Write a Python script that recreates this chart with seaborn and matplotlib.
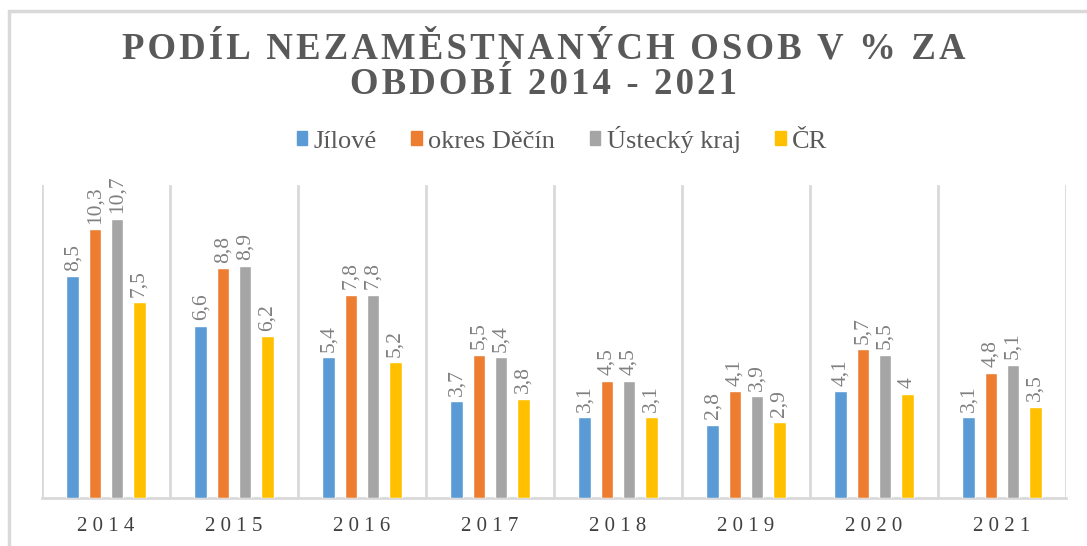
import numpy as np
import pandas as pd
import matplotlib
matplotlib.use("Agg")
import matplotlib.pyplot as plt
from matplotlib.patches import Rectangle
from matplotlib.ticker import FixedLocator
import seaborn as sns

years = ["2014", "2015", "2016", "2017", "2018", "2019", "2020", "2021"]
jilove = [8.5, 6.6, 5.4, 3.7, 3.1, 2.8, 4.1, 3.1]
decin = [10.3, 8.8, 7.8, 5.5, 4.5, 4.1, 5.7, 4.8]
ustecky = [10.7, 8.9, 7.8, 5.4, 4.5, 3.9, 5.5, 5.1]
cr = [7.5, 6.2, 5.2, 3.8, 3.1, 2.9, 4.0, 3.5]
series = ["Jílové", "okres Děčín", "Ústecký kraj", "ČR"]
colors = ["#5B9BD5", "#ED7D31", "#A5A5A5", "#FFC000"]

df = pd.DataFrame({"rok": years * 4,
                   "serie": np.repeat(series, len(years)),
                   "hodnota": jilove + decin + ustecky + cr})

sns.set_style("white")
plt.rcParams["font.family"] = ["Liberation Serif", "DejaVu Serif"]

fig = plt.figure(figsize=(10.87, 5.46), dpi=100)
ax = fig.add_axes([42 / 1087, 48 / 546, 1024 / 1087, 313 / 546])

sns.barplot(data=df, x="rok", y="hodnota", hue="serie", palette=colors,
            width=0.69, gap=0.42, saturation=1, ax=ax, legend=False, zorder=3)

def fmt(v):
    return ("%g" % v).replace(".", ",")

for cont in ax.containers:
    ax.bar_label(cont, labels=[fmt(b.get_height()) for b in cont],
                 rotation=90, padding=4, fontsize=15.5, color="#808080")

ax.set_ylim(0, 12)
ax.set_xlim(-0.5, 7.5)
ax.set_yticks([])
ax.set_xlabel("")
ax.set_ylabel("")
ax.set_xticks(range(len(years)))
ax.set_xticklabels([" ".join(y) for y in years], fontsize=15, color="#404040")
ax.tick_params(axis="x", length=0, pad=14)
ax.xaxis.set_minor_locator(FixedLocator(np.arange(-0.5, 8, 1)))
ax.grid(True, which="minor", axis="x", color="#d9d9d9", linewidth=2)
ax.tick_params(axis="x", which="minor", length=0)
for s in ["top", "right", "left"]:
    ax.spines[s].set_visible(False)
ax.spines["bottom"].set_color("#d9d9d9")
ax.spines["bottom"].set_linewidth(2)

# title with a bit of letter spacing
sp = "\u200a"
l1 = "PODÍL NEZAMĚSTNANÝCH OSOB V % ZA"
l2 = "OBDOBÍ 2014 - 2021"
fig.text(0.5, 0.910, sp.join(l1), ha="center", va="center", fontsize=26.5,
         fontweight="bold", color="#595959")
fig.text(0.5, 0.845, sp.join(l2), ha="center", va="center", fontsize=26.5,
         fontweight="bold", color="#595959")

# legend
handles = [Rectangle((0, 0), 1, 1, color=c) for c in colors]
fig.legend(handles, series, loc="center", bbox_to_anchor=(0.517, 0.745),
           ncol=4, frameon=False, fontsize=19, handlelength=0.4,
           handleheight=0.45, handletextpad=0.25, columnspacing=1.3,
           labelcolor="#595959")

# outer chart border
fig.patches.append(Rectangle((9 / 1087, -0.1), 1.2, (546 - 11) / 546 + 0.1,
                             transform=fig.transFigure, fill=False,
                             edgecolor="#d9d9d9", linewidth=2.5))

fig.savefig("out.png", dpi=100)
